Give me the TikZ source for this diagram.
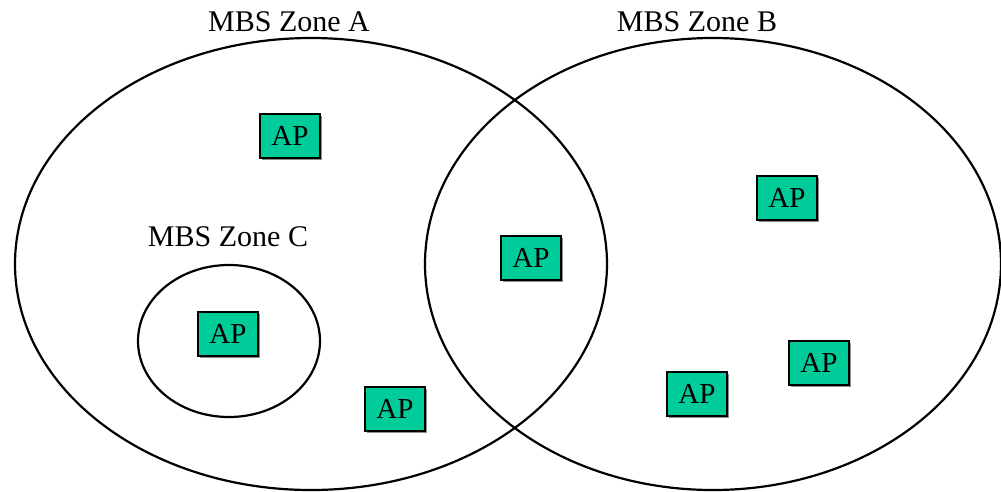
\documentclass[tikz,border=0pt]{standalone}
\usepackage{fontspec}
\setmainfont{Liberation Serif}
\usetikzlibrary{shadows}
\definecolor{apgreen}{HTML}{00CC99}
\begin{document}
\begin{tikzpicture}[x=1pt,y=-1pt,
  zone/.style={draw=black,line width=2.2pt},
  apbox/.style={draw=black,line width=2pt,fill=apgreen,minimum width=60pt,minimum height=44pt,inner sep=0pt,font=\fontsize{29}{30}\selectfont,
    drop shadow={shadow xshift=2pt,shadow yshift=-2pt,fill=black!45,opacity=1}},
  lbl/.style={font=\fontsize{30}{32}\selectfont,inner sep=0pt}]
\useasboundingbox (0,0) rectangle (1001,491);
\begin{scope}
\clip (0,0) rectangle (1001,491);
\draw[zone] (311,264) ellipse [x radius=296, y radius=226];
\draw[zone] (713,264) ellipse [x radius=288, y radius=226];
\draw[zone] (229,341) ellipse [x radius=91, y radius=76];
\end{scope}
\node[lbl] (la) at (289,22) {MBS Zone A};
\node[lbl] (lb) at (697,22) {MBS Zone B};
\node[lbl] (lc) at (228,237) {MBS Zone C};
\node[apbox] (ap1) at (290,136) {AP};
\node[apbox] (ap2) at (531,258) {AP};
\node[apbox] (ap3) at (228,334) {AP};
\node[apbox] (ap4) at (395,409) {AP};
\node[apbox] (ap5) at (787,198) {AP};
\node[apbox] (ap6) at (819,363) {AP};
\node[apbox] (ap7) at (697,394) {AP};
\end{tikzpicture}
\end{document}
